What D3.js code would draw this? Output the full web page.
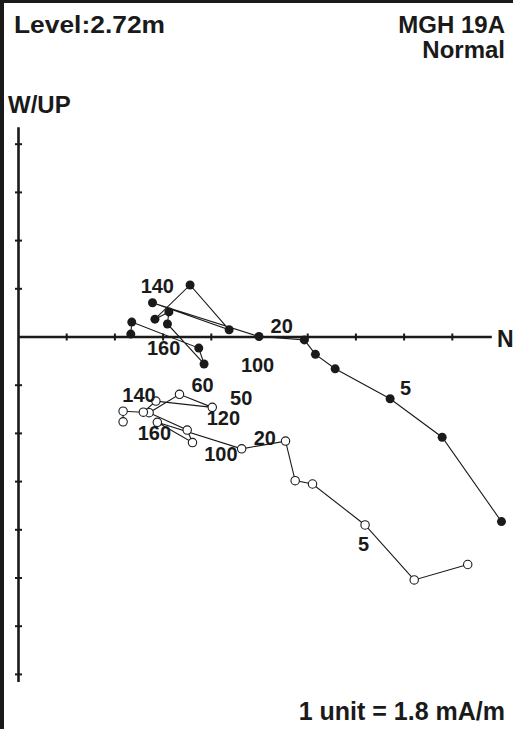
<!DOCTYPE html>
<html>
<head>
<meta charset="utf-8">
<script src="https://cdn.jsdelivr.net/npm/d3@7/dist/d3.min.js"></script>
<style>
  html, body { margin: 0; padding: 0; background: #fff; }
  svg { display: block; }
  text { font-family: "Liberation Sans", Arial, sans-serif; font-weight: bold; fill: #1a1a1a; }
</style>
</head>
<body>
<svg id="chart" width="513" height="729"></svg>
<script>
// Induction vector hodograph: N component (x) against W/UP component (y), in units.
const realU = [10.02, 8.79, 7.71, 6.57, 6.16, 5.93, 4.99, 2.78, 4.37, 3.56, 2.83, 3.12, 3.09, 3.85, 3.74, 2.35, 2.33];
const realV = [-3.83, -2.08, -1.28, -0.66, -0.36, -0.06, 0.01, 0.71, 0.15, 1.08, 0.37, 0.52, 0.27, -0.56, -0.23, 0.31, 0.06];

const imagU = [9.32, 8.21, 7.19, 6.10, 5.74, 5.54, 4.63, 2.88, 3.61, 3.50, 2.71, 3.34, 4.02, 2.85, 2.59, 2.17, 2.17];
const imagV = [-4.72, -5.04, -3.90, -3.05, -2.98, -2.16, -2.32, -1.77, -2.19, -1.93, -1.57, -1.19, -1.46, -1.33, -1.56, -1.54, -1.76];

// Period labels placed beside the traces (text, u, v)
const realLabels = ["140", "160", "20", "100", "5"];
const realLabelU = [2.88, 3.01, 5.46, 4.96, 8.03];
const realLabelV = [0.91, -0.37, 0.08, -0.73, -1.20];

const imagLabels = ["140", "60", "50", "120", "160", "100", "20", "5"];
const imagLabelU = [2.50, 3.82, 4.62, 4.25, 2.82, 4.20, 5.11, 7.16];
const imagLabelV = [-1.35, -1.14, -1.41, -1.83, -2.14, -2.57, -2.24, -4.43];

// Axis extents and tick values (units)
const xAxisRange = [0, 9.82];
const yAxisRange = [-7.16, 4.35];
const xTicks = [1, 2, 3, 4, 5, 6, 7, 8, 9];
const yTicks = [4, 3, 2, 1, -1, -2, -3, -4, -5, -6, -7];

const svg = d3.select("#chart");
const W = 513, H = 729;

const x = d3.scaleLinear().domain([0, 10]).range([18.5, 18.5 + 482]);
const y = d3.scaleLinear().domain([0, 10]).range([337, 337 - 482]);

// Frame (top and left edges)
svg.append("rect").attr("x", 0).attr("y", 0).attr("width", W).attr("height", 3).attr("fill", "#1a1a1a");
svg.append("rect").attr("x", 0).attr("y", 0).attr("width", 4).attr("height", H).attr("fill", "#1a1a1a");

// Axes
const axes = svg.append("g").attr("stroke", "#1a1a1a");
axes.append("line")
  .attr("x1", x(xAxisRange[0])).attr("x2", x(xAxisRange[1]))
  .attr("y1", y(0)).attr("y2", y(0)).attr("stroke-width", 2.6);
axes.append("line")
  .attr("x1", x(0)).attr("x2", x(0))
  .attr("y1", y(yAxisRange[1])).attr("y2", y(yAxisRange[0])).attr("stroke-width", 2.6);

axes.selectAll("line.xt").data(xTicks).join("line").attr("class", "xt")
  .attr("x1", d => x(d)).attr("x2", d => x(d))
  .attr("y1", y(0) - 3.5).attr("y2", y(0) + 3.5).attr("stroke-width", 2);
axes.selectAll("line.yt").data(yTicks).join("line").attr("class", "yt")
  .attr("x1", x(0) - 3.5).attr("x2", x(0) + 3.5)
  .attr("y1", d => y(d)).attr("y2", d => y(d)).attr("stroke-width", 2);

// Traces
const line = d3.line().x(d => x(d[0])).y(d => y(d[1]));
const realPts = realU.map((u, i) => [u, realV[i]]);
const imagPts = imagU.map((u, i) => [u, imagV[i]]);

svg.append("path").datum(imagPts).attr("d", line)
  .attr("fill", "none").attr("stroke", "#1a1a1a").attr("stroke-width", 1.1);
svg.append("path").datum(realPts).attr("d", line)
  .attr("fill", "none").attr("stroke", "#1a1a1a").attr("stroke-width", 1.1);

svg.selectAll("circle.im").data(imagPts).join("circle").attr("class", "im")
  .attr("cx", d => x(d[0])).attr("cy", d => y(d[1])).attr("r", 4.2)
  .attr("fill", "#fff").attr("stroke", "#1a1a1a").attr("stroke-width", 1.1);
svg.selectAll("circle.re").data(realPts).join("circle").attr("class", "re")
  .attr("cx", d => x(d[0])).attr("cy", d => y(d[1])).attr("r", 4.5)
  .attr("fill", "#1a1a1a");

// Period labels
const lab = svg.append("g").attr("font-size", 20).attr("text-anchor", "middle");
lab.selectAll("text.rl").data(realLabels).join("text").attr("class", "rl")
  .attr("x", (d, i) => x(realLabelU[i])).attr("y", (d, i) => y(realLabelV[i])).text(d => d);
lab.selectAll("text.il").data(imagLabels).join("text").attr("class", "il")
  .attr("x", (d, i) => x(imagLabelU[i])).attr("y", (d, i) => y(imagLabelV[i])).text(d => d);

// Headings and axis names
svg.append("text").attr("x", 14).attr("y", 33).attr("font-size", 24)
  .attr("textLength", 151).attr("lengthAdjust", "spacingAndGlyphs").text("Level:2.72m");
svg.append("text").attr("x", 505).attr("y", 33).attr("font-size", 24).attr("text-anchor", "end")
  .text("MGH 19A");
svg.append("text").attr("x", 505).attr("y", 58).attr("font-size", 24).attr("text-anchor", "end")
  .text("Normal");
svg.append("text").attr("x", 8).attr("y", 113).attr("font-size", 24).text("W/UP");
svg.append("text").attr("x", 497).attr("y", 346.5).attr("font-size", 23).text("N");
svg.append("text").attr("x", 505).attr("y", 720).attr("font-size", 25).attr("text-anchor", "end")
  .text("1 unit = 1.8 mA/m");
</script>
</body>
</html>
